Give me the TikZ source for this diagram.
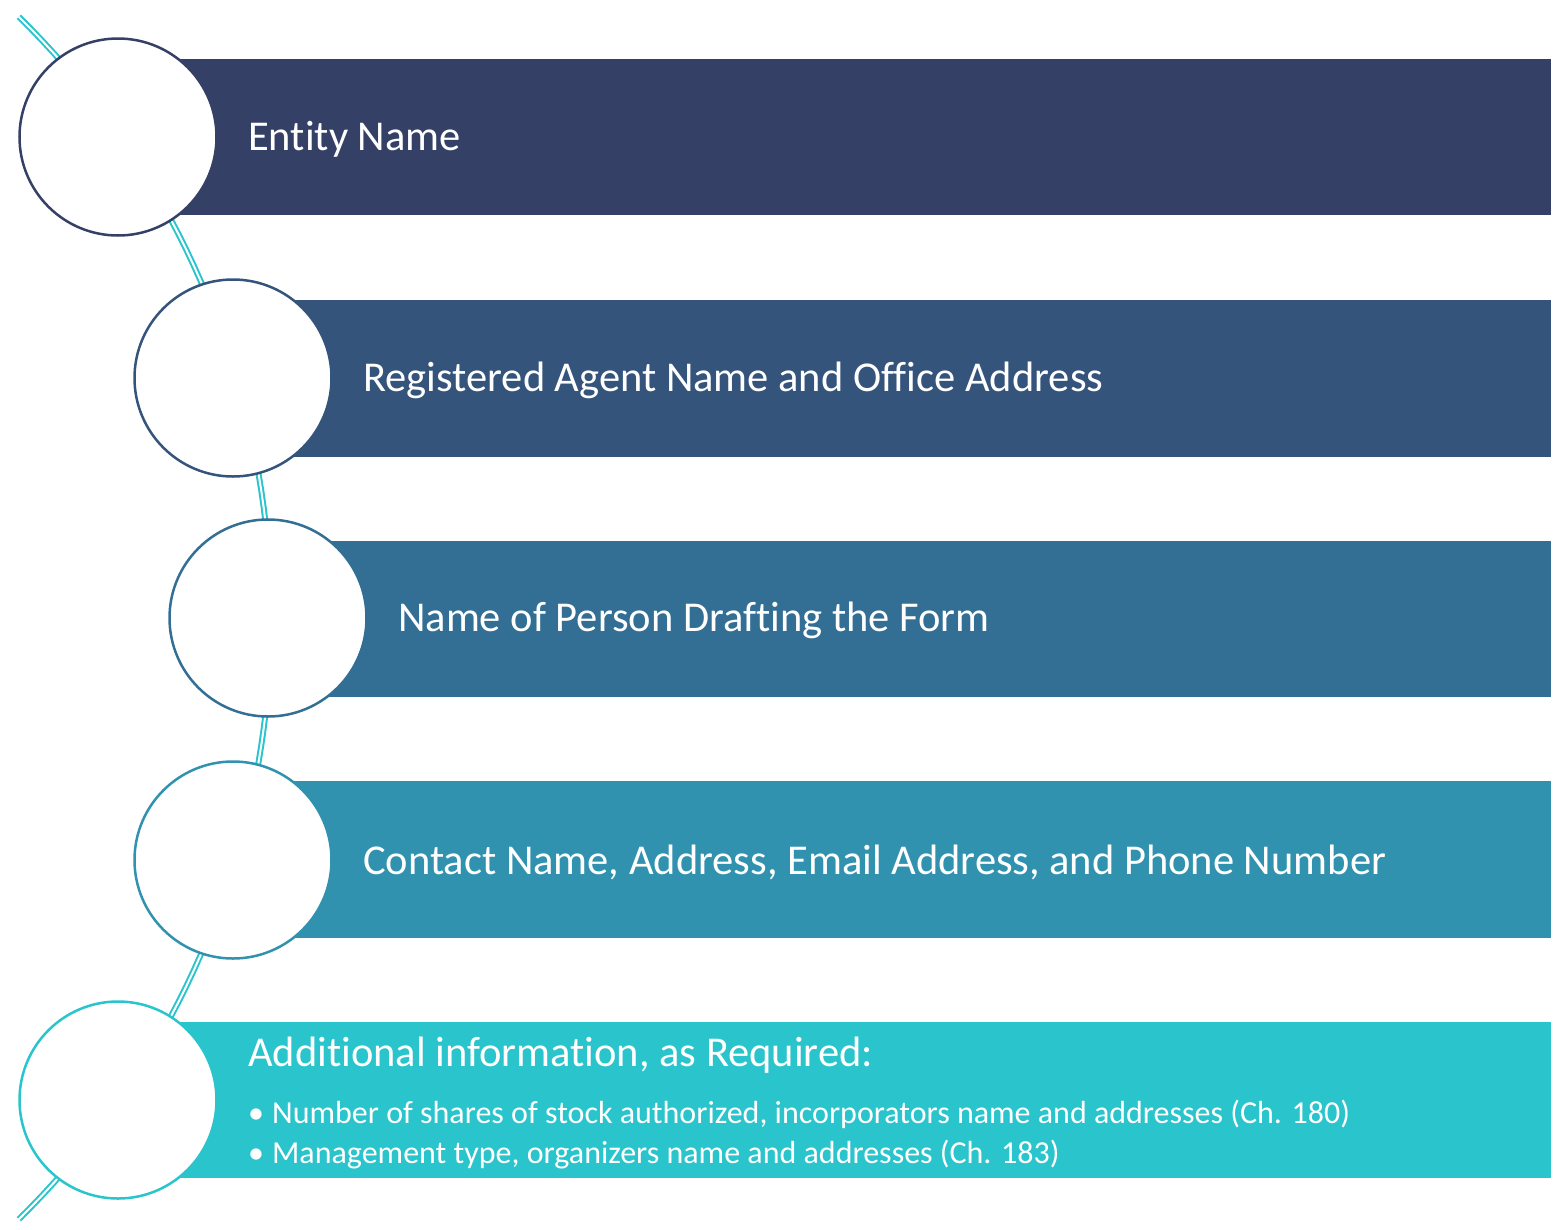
\documentclass[tikz,border=0pt]{standalone}
\usepackage{fontspec}
\setmainfont{Carlito}[Ligatures=NoCommon]
\usepackage{xcolor}
\usepackage{tikz}
\usetikzlibrary{positioning,calc}

\definecolor{stepA}{HTML}{354066}
\definecolor{stepB}{HTML}{34547C}
\definecolor{stepC}{HTML}{336E94}
\definecolor{stepD}{HTML}{3192B0}
\definecolor{stepE}{HTML}{2AC4CC}

\tikzset{
  ring/.style={circle,draw=#1,fill=white,line width=2.5pt,minimum size=197pt,inner sep=0pt},
  bar/.style={fill=#1},
  label/.style={anchor=west,text=white,font=\fontsize{42.5}{48}\selectfont,inner sep=0pt},
  small/.style={anchor=west,text=white,font=\fontsize{32}{36}\selectfont,inner sep=0pt},
  spine/.style={draw=stepE,line width=2pt,double=white,double distance=2pt}
}

\begin{document}
\begin{tikzpicture}[x=1pt,y=-1pt]
\useasboundingbox (0,0) rectangle (1560,1229);
% the curved spine behind the circles
\draw[spine] plot[domain=-45.5:45.5,samples=80] ({-572+843*cos(\x)},{618+843*sin(\x)});
% bars
\fill[bar=stepA] (118,59) rectangle (1551,215);
\fill[bar=stepB] (233,300) rectangle (1551,457);
\fill[bar=stepC] (268,541) rectangle (1551,697);
\fill[bar=stepD] (233,781) rectangle (1551,938);
\fill[bar=stepE] (118,1022) rectangle (1551,1178);
% circles
\node[ring=stepA] (c1) at (118,137) {};
\node[ring=stepB] (c2) at (233,378) {};
\node[ring=stepC] (c3) at (268,618) {};
\node[ring=stepD] (c4) at (233,860) {};
\node[ring=stepE] (c5) at (118,1100) {};
% texts
\node[label] (t1) at (248,139) {Entity Name};
\node[label] (t2) at (363,380) {Registered Agent Name and Office Address};
\node[label] (t3) at (398,620) {Name of Person Drafting the Form};
\node[label] (t4) at (363,862) {Contact Name, Address, Email Address, and Phone Number};
\node[label] (t5) at (248,1055) {Additional information, as Required:};
\node[small] (b1) at (248,1114) {•\hspace{8pt}Number of shares of stock authorized, incorporators name and addresses (Ch. 180)};
\node[small] (b2) at (248,1155) {•\hspace{8pt}Management type, organizers name and addresses (Ch. 183)};
\end{tikzpicture}
\end{document}
